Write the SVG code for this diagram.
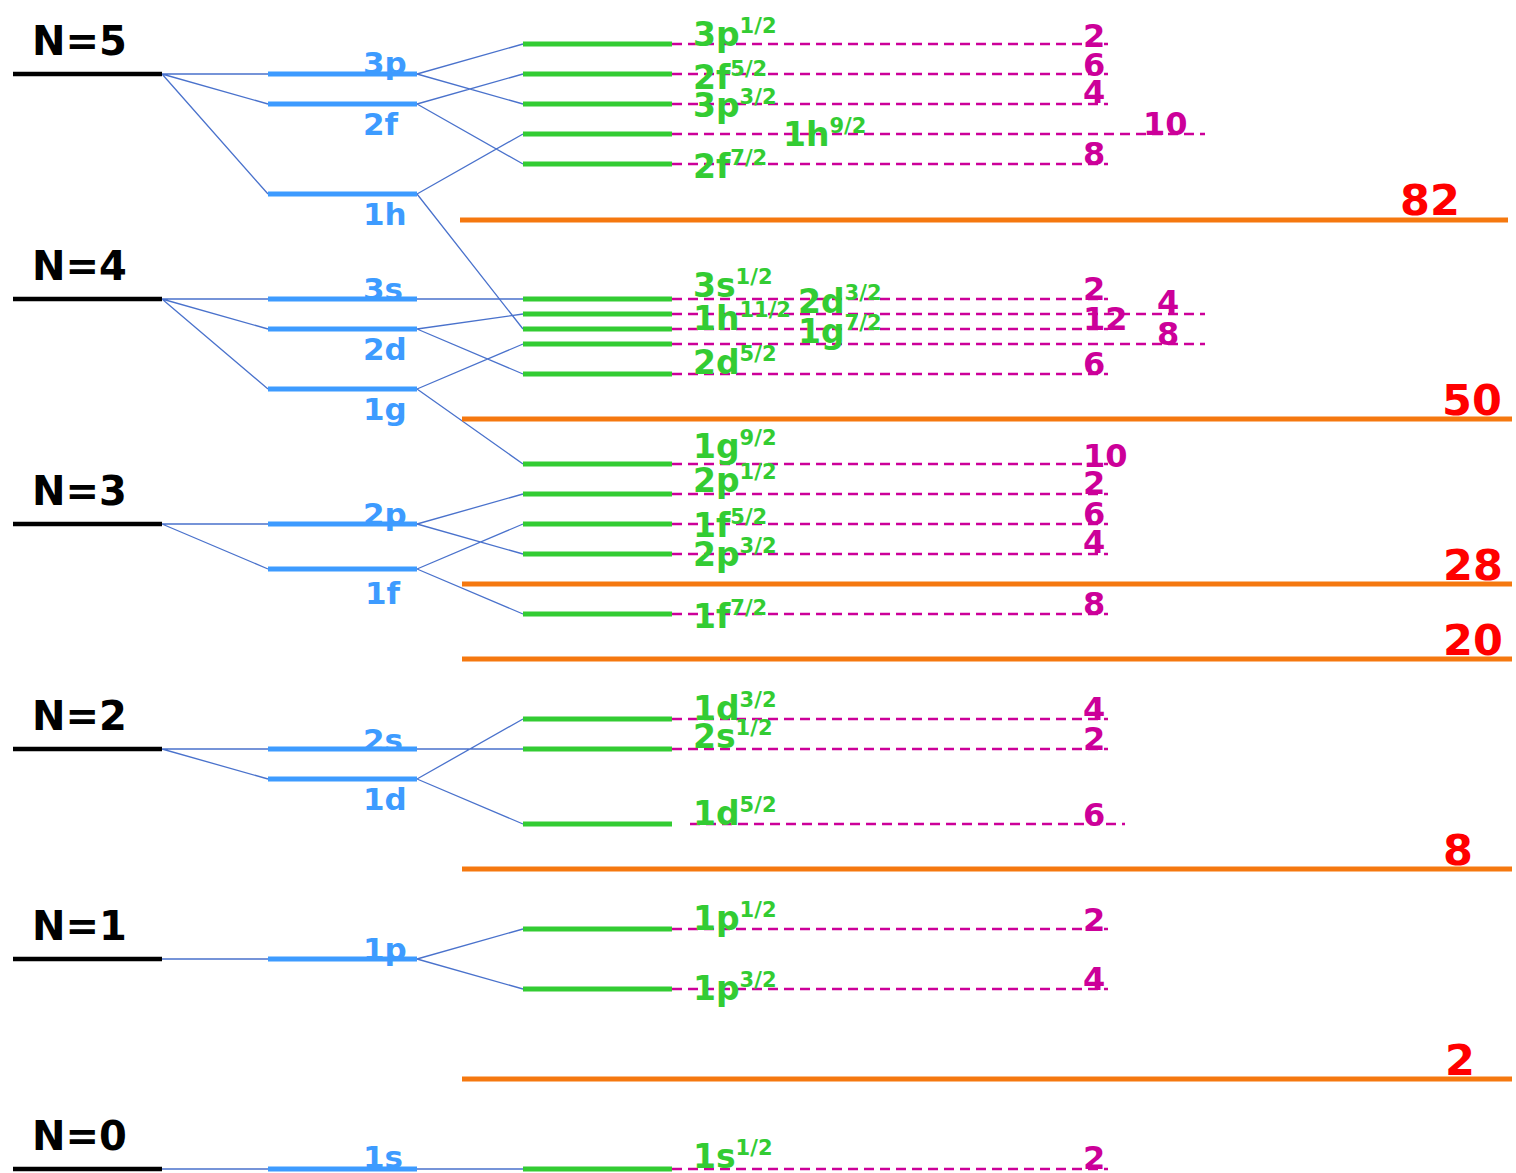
<svg xmlns="http://www.w3.org/2000/svg" width="1516" height="1173" viewBox="0 0 1516 1173">
<style>
.bk{stroke:#000;stroke-width:4.5}
.bl{stroke:#3d9bff;stroke-width:5}
.gr{stroke:#33cc33;stroke-width:5}
.or{stroke:#f5780f;stroke-width:5}
.cn{stroke:#4a72cc;stroke-width:1.3;fill:none}
.ds{stroke:#cc0099;stroke-width:2.6;stroke-dasharray:10 6}
text{font-family:"DejaVu Sans","Liberation Sans",sans-serif;font-weight:bold}
.tN{font-size:40px;fill:#000}
.tB{font-size:31px;fill:#3d9bff}
.tG{font-size:33px;fill:#33cc33}
.sp{font-size:21px}
.tM{font-size:32px;fill:#cc0099}
.tR{font-size:43px;fill:#ff0000}
</style>
<g id="connectors">
<path class="cn" d="M162,74L268,74M162,74L268,104M162,74L268,194M417,74L523,44M417,74L523,104M417,104L523,74M417,104L523,164M417,194L523,134M417,194L523,329"/>
<path class="cn" d="M162,299L268,299M162,299L268,329M162,299L268,389M417,299L523,299M417,329L523,314M417,329L523,374M417,389L523,344M417,389L523,464"/>
<path class="cn" d="M162,524L268,524M162,524L268,569M417,524L523,494M417,524L523,554M417,569L523,524M417,569L523,614"/>
<path class="cn" d="M162,749L268,749M162,749L268,779M417,749L523,749M417,779L523,719M417,779L523,824"/>
<path class="cn" d="M162,959L268,959M417,959L523,929M417,959L523,989"/>
<path class="cn" d="M162,1169L268,1169M417,1169L523,1169"/>
</g>
<g id="dashes">
<path class="ds" d="M672,44H1108M672,74H1108M672,104H1108M672,134H1205M672,164H1108"/>
<path class="ds" d="M672,299H1108M672,314H1205M672,329H1108M672,344H1205M672,374H1108"/>
<path class="ds" d="M672,464H1108M672,494H1108M672,524H1108M672,554H1108M672,614H1108"/>
<path class="ds" d="M672,719H1108M672,749H1108M690,824H1125"/>
<path class="ds" d="M672,929H1108M672,989H1108"/>
<path class="ds" d="M672,1169H1108"/>
</g>
<g id="shells">
<g id="N5"><line class="bk" x1="13" y1="74" x2="162" y2="74"/><text class="tN" x="32" y="55">N=5</text></g>
<g id="N4"><line class="bk" x1="13" y1="299" x2="162" y2="299"/><text class="tN" x="32" y="280">N=4</text></g>
<g id="N3"><line class="bk" x1="13" y1="524" x2="162" y2="524"/><text class="tN" x="32" y="505">N=3</text></g>
<g id="N2"><line class="bk" x1="13" y1="749" x2="162" y2="749"/><text class="tN" x="32" y="730">N=2</text></g>
<g id="N1"><line class="bk" x1="13" y1="959" x2="162" y2="959"/><text class="tN" x="32" y="940">N=1</text></g>
<g id="N0"><line class="bk" x1="13" y1="1169" x2="162" y2="1169"/><text class="tN" x="32" y="1150">N=0</text></g>
</g>
<g id="orbitals">
<g id="o3p"><line class="bl" x1="268" y1="74" x2="417" y2="74"/><text class="tB" x="363" y="74">3p</text></g>
<g id="o2f"><line class="bl" x1="268" y1="104" x2="417" y2="104"/><text class="tB" x="363" y="135">2f</text></g>
<g id="o1h"><line class="bl" x1="268" y1="194" x2="417" y2="194"/><text class="tB" x="363" y="225">1h</text></g>
<g id="o3s"><line class="bl" x1="268" y1="299" x2="417" y2="299"/><text class="tB" x="363" y="300">3s</text></g>
<g id="o2d"><line class="bl" x1="268" y1="329" x2="417" y2="329"/><text class="tB" x="363" y="360">2d</text></g>
<g id="o1g"><line class="bl" x1="268" y1="389" x2="417" y2="389"/><text class="tB" x="363" y="420">1g</text></g>
<g id="o2p"><line class="bl" x1="268" y1="524" x2="417" y2="524"/><text class="tB" x="363" y="525">2p</text></g>
<g id="o1f"><line class="bl" x1="268" y1="569" x2="417" y2="569"/><text class="tB" x="365" y="604">1f</text></g>
<g id="o2s"><line class="bl" x1="268" y1="749" x2="417" y2="749"/><text class="tB" x="363" y="751">2s</text></g>
<g id="o1d"><line class="bl" x1="268" y1="779" x2="417" y2="779"/><text class="tB" x="363" y="810">1d</text></g>
<g id="o1p"><line class="bl" x1="268" y1="959" x2="417" y2="959"/><text class="tB" x="363" y="960">1p</text></g>
<g id="o1s"><line class="bl" x1="268" y1="1169" x2="417" y2="1169"/><text class="tB" x="363" y="1168">1s</text></g>
</g>
<g id="levels">
<g id="l3p12"><line class="gr" x1="523" y1="44" x2="672" y2="44"/><text class="tG" x="693" y="46">3p<tspan class="sp" dy="-13">1/2</tspan></text><text class="tM" x="1083" y="47">2</text></g>
<g id="l2f52"><line class="gr" x1="523" y1="74" x2="672" y2="74"/><text class="tG" x="693" y="89">2f<tspan class="sp" dy="-13">5/2</tspan></text><text class="tM" x="1083" y="76">6</text></g>
<g id="l3p32"><line class="gr" x1="523" y1="104" x2="672" y2="104"/><text class="tG" x="693" y="117">3p<tspan class="sp" dy="-13">3/2</tspan></text><text class="tM" x="1083" y="103">4</text></g>
<g id="l1h92"><line class="gr" x1="523" y1="134" x2="672" y2="134"/><text class="tG" x="783" y="146">1h<tspan class="sp" dy="-13">9/2</tspan></text><text class="tM" x="1143" y="135">10</text></g>
<g id="l2f72"><line class="gr" x1="523" y1="164" x2="672" y2="164"/><text class="tG" x="693" y="178">2f<tspan class="sp" dy="-13">7/2</tspan></text><text class="tM" x="1083" y="165">8</text></g>
<g id="l3s12"><line class="gr" x1="523" y1="299" x2="672" y2="299"/><text class="tG" x="693" y="297">3s<tspan class="sp" dy="-13">1/2</tspan></text><text class="tM" x="1083" y="300">2</text></g>
<g id="l1h112"><line class="gr" x1="523" y1="314" x2="672" y2="314"/><text class="tG" x="693" y="330">1h<tspan class="sp" dy="-13">11/2</tspan></text><text class="tM" x="1083" y="330">12</text></g>
<g id="l2d32"><line class="gr" x1="523" y1="329" x2="672" y2="329"/><text class="tG" x="798" y="313">2d<tspan class="sp" dy="-13">3/2</tspan></text><text class="tM" x="1157" y="313">4</text></g>
<g id="l1g72"><line class="gr" x1="523" y1="344" x2="672" y2="344"/><text class="tG" x="798" y="343">1g<tspan class="sp" dy="-13">7/2</tspan></text><text class="tM" x="1157" y="345">8</text></g>
<g id="l2d52"><line class="gr" x1="523" y1="374" x2="672" y2="374"/><text class="tG" x="693" y="374">2d<tspan class="sp" dy="-13">5/2</tspan></text><text class="tM" x="1083" y="375">6</text></g>
<g id="l1g92"><line class="gr" x1="523" y1="464" x2="672" y2="464"/><text class="tG" x="693" y="458">1g<tspan class="sp" dy="-13">9/2</tspan></text><text class="tM" x="1083" y="467">10</text></g>
<g id="l2p12"><line class="gr" x1="523" y1="494" x2="672" y2="494"/><text class="tG" x="693" y="492">2p<tspan class="sp" dy="-13">1/2</tspan></text><text class="tM" x="1083" y="494">2</text></g>
<g id="l1f52"><line class="gr" x1="523" y1="524" x2="672" y2="524"/><text class="tG" x="693" y="537">1f<tspan class="sp" dy="-13">5/2</tspan></text><text class="tM" x="1083" y="525">6</text></g>
<g id="l2p32"><line class="gr" x1="523" y1="554" x2="672" y2="554"/><text class="tG" x="693" y="566">2p<tspan class="sp" dy="-13">3/2</tspan></text><text class="tM" x="1083" y="553">4</text></g>
<g id="l1f72"><line class="gr" x1="523" y1="614" x2="672" y2="614"/><text class="tG" x="693" y="628">1f<tspan class="sp" dy="-13">7/2</tspan></text><text class="tM" x="1083" y="615">8</text></g>
<g id="l1d32"><line class="gr" x1="523" y1="719" x2="672" y2="719"/><text class="tG" x="693" y="720">1d<tspan class="sp" dy="-13">3/2</tspan></text><text class="tM" x="1083" y="720">4</text></g>
<g id="l2s12"><line class="gr" x1="523" y1="749" x2="672" y2="749"/><text class="tG" x="693" y="748">2s<tspan class="sp" dy="-13">1/2</tspan></text><text class="tM" x="1083" y="750">2</text></g>
<g id="l1d52"><line class="gr" x1="523" y1="824" x2="672" y2="824"/><text class="tG" x="693" y="825">1d<tspan class="sp" dy="-13">5/2</tspan></text><text class="tM" x="1083" y="826">6</text></g>
<g id="l1p12"><line class="gr" x1="523" y1="929" x2="672" y2="929"/><text class="tG" x="693" y="930">1p<tspan class="sp" dy="-13">1/2</tspan></text><text class="tM" x="1083" y="931">2</text></g>
<g id="l1p32"><line class="gr" x1="523" y1="989" x2="672" y2="989"/><text class="tG" x="693" y="1000">1p<tspan class="sp" dy="-13">3/2</tspan></text><text class="tM" x="1083" y="990">4</text></g>
<g id="l1s12"><line class="gr" x1="523" y1="1169" x2="672" y2="1169"/><text class="tG" x="693" y="1168">1s<tspan class="sp" dy="-13">1/2</tspan></text><text class="tM" x="1083" y="1169">2</text></g>
</g>
<g id="magic">
<g id="m82"><line class="or" x1="460" y1="220" x2="1508" y2="220"/><text class="tR" x="1400" y="215">82</text></g>
<g id="m50"><line class="or" x1="462" y1="419" x2="1512" y2="419"/><text class="tR" x="1442" y="415">50</text></g>
<g id="m28"><line class="or" x1="462" y1="584" x2="1512" y2="584"/><text class="tR" x="1443" y="580">28</text></g>
<g id="m20"><line class="or" x1="462" y1="659" x2="1512" y2="659"/><text class="tR" x="1443" y="655">20</text></g>
<g id="m8"><line class="or" x1="462" y1="869" x2="1512" y2="869"/><text class="tR" x="1443" y="865">8</text></g>
<g id="m2"><line class="or" x1="462" y1="1079" x2="1512" y2="1079"/><text class="tR" x="1445" y="1075">2</text></g>
</g>
</svg>
